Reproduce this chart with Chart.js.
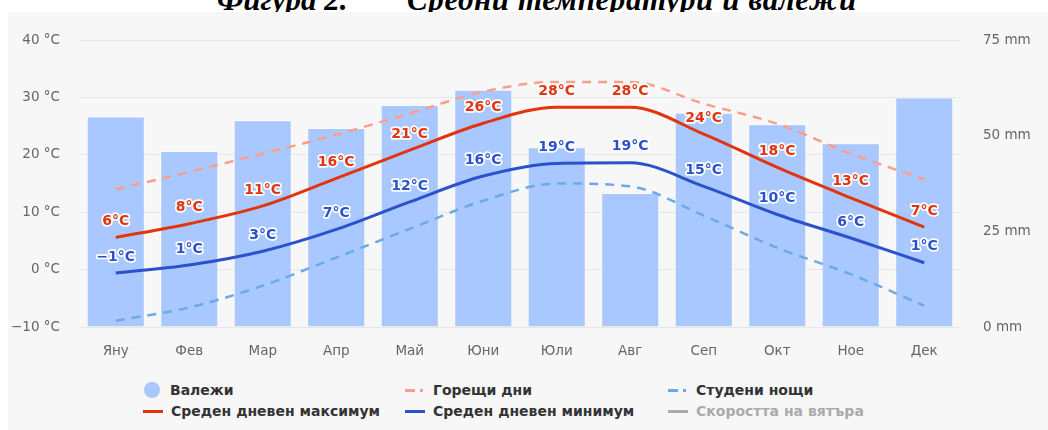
<!DOCTYPE html>
<html lang="bg">
<head>
<meta charset="UTF-8">
<title>Средни температури и валежи</title>
<script src="https://cdn.jsdelivr.net/npm/chart.js"></script>
<style>
    body { margin: 0; background: #fff; width: 1048px; height: 430px; overflow: hidden; position: relative; font-family: "DejaVu Sans", sans-serif; }
    .title { position: absolute; top: -15px; font: italic bold 31px/30px "Liberation Serif", serif; color: #000; white-space: nowrap; }
    .panel { position: absolute; left: 8px; top: 12px; width: 1040px; height: 418px; background: #f7f7f7; }
    #chartBox { position: absolute; left: 0; top: 0; width: 1048px; height: 375px; }
    .legend { position: absolute; top: 380px; left: 0; width: 1048px; height: 44px; }
    .item { position: absolute; height: 20px; line-height: 20px; font-size: 14px; font-weight: bold; color: #333; white-space: nowrap; }
    .sym { position: absolute; top: 0; }
</style>
</head>
<body>
    <div class="title" style="left:217px">Фигура 2.</div>
    <div class="title" style="left:407px;letter-spacing:0.6px">Средни температури и валежи</div>
    <div class="panel"></div>
    <div id="chartBox"><canvas id="climateChart"></canvas></div>
    <div class="legend" id="legend"></div>

<script>
    const months = ['Яну', 'Фев', 'Мар', 'Апр', 'Май', 'Юни', 'Юли', 'Авг', 'Сеп', 'Окт', 'Ное', 'Дек'];
    const precipitation = [55, 46, 54, 52, 58, 62, 47, 35, 56, 53, 48, 60];
    const avgMax = [5.6, 8.0, 11.1, 15.9, 20.8, 25.5, 28.3, 28.3, 23.6, 17.8, 12.5, 7.4];
    const avgMin = [-0.6, 0.8, 3.2, 7.0, 11.8, 16.3, 18.5, 18.6, 14.5, 9.6, 5.5, 1.2];
    const hotDays = [14.0, 17.0, 20.2, 23.5, 27.2, 31.0, 32.7, 32.7, 28.9, 25.4, 20.2, 15.7];
    const coldNights = [-8.9, -6.6, -2.8, 2.1, 7.1, 12.0, 15.0, 14.5, 9.4, 3.8, -0.8, -6.3];
    const tempTicks = [-10, 0, 10, 20, 30, 40];
    const rainTicks = [0, 25, 50, 75];

    const tickFont = { family: 'DejaVu Sans', size: 13.5 };

    // labels above the max / min lines
    const pointLabels = {
        id: 'pointLabels',
        afterDatasetsDraw(chart) {
            const ctx = chart.ctx;
            ctx.save();
            ctx.font = 'bold 14px "DejaVu Sans", sans-serif';
            ctx.textAlign = 'center';
            ctx.textBaseline = 'middle';
            ctx.lineJoin = 'round';
            chart.data.datasets.forEach((ds, i) => {
                if (!ds.showLabels) return;
                chart.getDatasetMeta(i).data.forEach((pt, j) => {
                    const v = Math.round(ds.data[j]);
                    const txt = (v < 0 ? '\u2212' + Math.abs(v) : v) + '°C';
                    ctx.lineWidth = 3.5;
                    ctx.strokeStyle = '#fff';
                    ctx.strokeText(txt, pt.x, pt.y - 16);
                    ctx.fillStyle = ds.borderColor;
                    ctx.fillText(txt, pt.x, pt.y - 16);
                });
            });
            ctx.restore();
        }
    };

    const ctx = document.getElementById('climateChart').getContext('2d');
    const climateChart = new Chart(ctx, {
        type: 'bar',
        data: {
            labels: months,
            datasets: [
                {
                    type: 'line', label: 'Среден дневен максимум', data: avgMax, yAxisID: 'y',
                    borderColor: '#e2350f', borderWidth: 3, pointRadius: 0,
                    cubicInterpolationMode: 'monotone', showLabels: true, order: 1
                },
                {
                    type: 'line', label: 'Среден дневен минимум', data: avgMin, yAxisID: 'y',
                    borderColor: '#2b52cc', borderWidth: 3, pointRadius: 0,
                    cubicInterpolationMode: 'monotone', showLabels: true, order: 2
                },
                {
                    type: 'line', label: 'Горещи дни', data: hotDays, yAxisID: 'y',
                    borderColor: '#ff9d8c', borderWidth: 2.5, borderDash: [9, 7], pointRadius: 0,
                    cubicInterpolationMode: 'monotone', order: 3
                },
                {
                    type: 'line', label: 'Студени нощи', data: coldNights, yAxisID: 'y',
                    borderColor: '#6ea9e6', borderWidth: 2.5, borderDash: [9, 7], pointRadius: 0,
                    cubicInterpolationMode: 'monotone', order: 4
                },
                {
                    label: 'Валежи', data: precipitation, yAxisID: 'y1',
                    backgroundColor: '#a8c8ff', borderColor: 'rgba(255,255,255,0.5)', borderWidth: 1,
                    barPercentage: 0.79, categoryPercentage: 1, order: 10
                }
            ]
        },
        options: {
            responsive: true,
            maintainAspectRatio: false,
            animation: false,
            layout: { padding: { top: 40, left: 0, right: 0, bottom: 0 } },
            plugins: { legend: { display: false }, tooltip: { enabled: false } },
            scales: {
                x: {
                    grid: { display: false },
                    border: { display: false },
                    ticks: { color: '#666', font: tickFont, padding: 8 },
                    afterFit: s => { s.height = 48; }
                },
                y: {
                    position: 'left', min: -10, max: 40,
                    afterBuildTicks: s => { s.ticks = tempTicks.map(v => ({ value: v })); },
                    ticks: { color: '#666', font: tickFont, padding: 19, callback: v => (v < 0 ? '\u2212' + Math.abs(v) : v) + ' °C' },
                    grid: { color: '#e6e6e6', drawTicks: false },
                    border: { display: false },
                    afterFit: s => { s.width = 79; }
                },
                y1: {
                    position: 'right', min: 0, max: 75,
                    afterBuildTicks: s => { s.ticks = rainTicks.map(v => ({ value: v })); },
                    ticks: { color: '#666', font: tickFont, padding: 22, callback: v => v + ' mm' },
                    grid: { drawOnChartArea: false, drawTicks: false },
                    border: { display: false },
                    afterFit: s => { s.width = 87; }
                }
            }
        },
        plugins: [pointLabels]
    });

    // legend in three columns, the wind series shown greyed out
    const legendItems = [
        { text: 'Валежи', x: 143, y: 0, kind: 'dot', color: '#a8c8ff' },
        { text: 'Горещи дни', x: 405, y: 0, kind: 'dash', color: '#ff9d8c' },
        { text: 'Студени нощи', x: 668, y: 0, kind: 'dash', color: '#6ea9e6' },
        { text: 'Среден дневен максимум', x: 143, y: 21, kind: 'line', color: '#e2350f' },
        { text: 'Среден дневен минимум', x: 405, y: 21, kind: 'line', color: '#2b52cc' },
        { text: 'Скоростта на вятъра', x: 668, y: 21, kind: 'line', color: '#aaa', faded: true }
    ];
    const legend = document.getElementById('legend');
    legendItems.forEach(it => {
        const el = document.createElement('div');
        el.className = 'item';
        el.style.left = it.x + 'px';
        el.style.top = it.y + 'px';
        el.style.paddingLeft = (it.kind === 'dot' ? 27 : 28) + 'px';
        if (it.faded) el.style.color = '#aaa';
        let sym;
        if (it.kind === 'dot') {
            sym = '<span class="sym" style="left:1px;top:2px;width:16px;height:16px;border-radius:50%;background:' + it.color + '"></span>';
        } else if (it.kind === 'line') {
            sym = '<span class="sym" style="left:0;top:9px;width:20px;height:3px;background:' + it.color + '"></span>';
        } else {
            sym = '<span class="sym" style="left:0;top:9px;width:10px;height:3px;background:' + it.color + '"></span>' +
                  '<span class="sym" style="left:15px;top:9px;width:3px;height:3px;background:' + it.color + '"></span>';
        }
        el.innerHTML = sym + it.text;
        legend.appendChild(el);
    });
</script>
</body>
</html>
